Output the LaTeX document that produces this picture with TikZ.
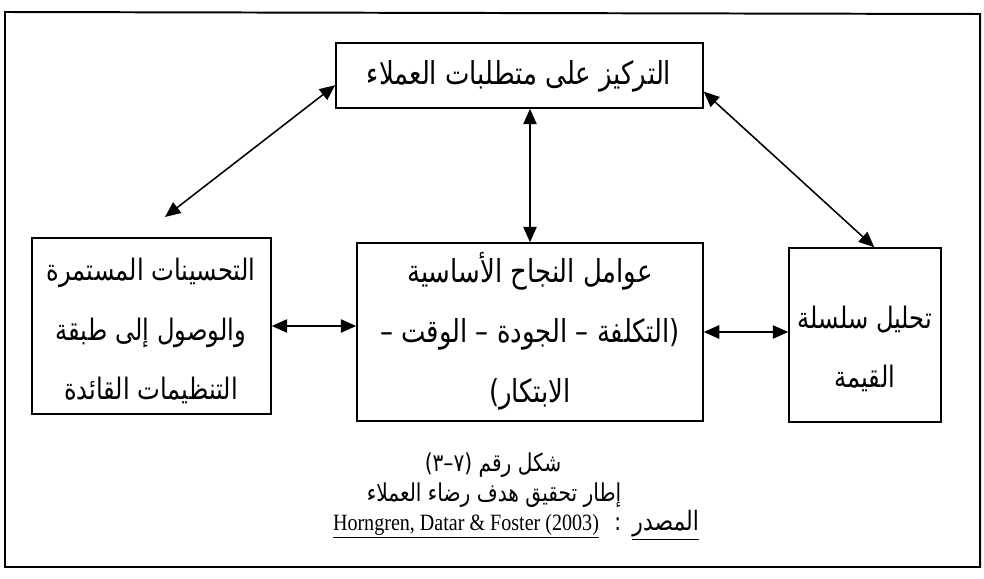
\documentclass[tikz,border=0pt]{standalone}
\usepackage{fontspec}
\setmainfont{Liberation Serif}
\newfontfamily\arabicfont[Script=Arabic,FakeStretch=0.82]{DejaVu Sans}
\newfontfamily\srcfont[FakeStretch=0.86]{Liberation Serif}
\TeXXeTstate=1
\usetikzlibrary{arrows.meta,fit}
\begin{document}
\begin{tikzpicture}[x=0.025cm,y=-0.025cm,
  box/.style={draw,line width=1.1pt,inner sep=0pt},
  boxtext/.style={font=\arabicfont\fontsize{22.5}{42.5}\selectfont,align=center,inner sep=0pt},
  sidetext/.style={boxtext,font=\arabicfont\fontsize{21}{42.5}\selectfont},
  link/.style={line width=1.1pt,{Triangle[length=11pt,width=9.5pt]}-{Triangle[length=11pt,width=9.5pt]}},
  caption/.style={font=\arabicfont\fontsize{17.5}{20}\selectfont,inner sep=0pt}]
\useasboundingbox (0,0) rectangle (984,578);
% outer frame
\draw[line width=1.4pt] (5,12) -- (980,14) -- (980,567) -- (5,567) -- cycle;

% boxes
\node[box,fit={(336,43) (703,108)}] (tbox) {};
\node[box,fit={(32,238) (271,414)}] (lbox) {};
\node[box,fit={(357,243) (703,421)}] (mbox) {};
\node[box,fit={(789,248) (941,422)}] (rbox) {};

% box texts
\node[boxtext] (ttext) at (519,76) {\beginR التركيز على متطلبات العملاء\endR};
\node[sidetext] (ltext) at (151,331) {\beginR التحسينات المستمرة\endR\\
  \beginR والوصول إلى طبقة\endR\\
  \beginR التنظيمات القائدة\endR};
\node[boxtext] (mtext) at (530,331) {\beginR عوامل النجاح الأساسية\endR\\
  \beginR (التكلفة – الجودة – الوقت –\endR\\
  \beginR الابتكار)\endR};
\node[sidetext] (rtext) at (865,349) {\beginR تحليل سلسلة\endR\\
  \beginR القيمة\endR};

% connectors
\coordinate (lfree) at (165,217);
\draw[link] (lfree) -- (tbox.183.9);
\draw[link] (tbox.-5.4) -- (rbox.84.7);
\draw[link] (tbox.south -| mbox.north) -- (mbox.north);
\draw[link] (lbox.east) -- (mbox.west |- lbox.east);
\draw[link] (mbox.east) -- (rbox.west |- mbox.east);

% caption
\node[caption] (cap1) at (493,465) {\beginR شكل رقم (٧–٣)\endR};
\node[caption] (cap2) at (494,495) {\beginR إطار تحقيق هدف رضاء العملاء\endR};
\node[caption] (cap3) at (516,525) {{\srcfont\fontsize{16.6}{18}\selectfont\underline{Horngren, Datar \& Foster (2003)}}\hspace{11pt}:\hspace{8pt}{\fontsize{19}{20}\selectfont\underline{\beginR المصدر\endR}}};
\end{tikzpicture}
\end{document}
